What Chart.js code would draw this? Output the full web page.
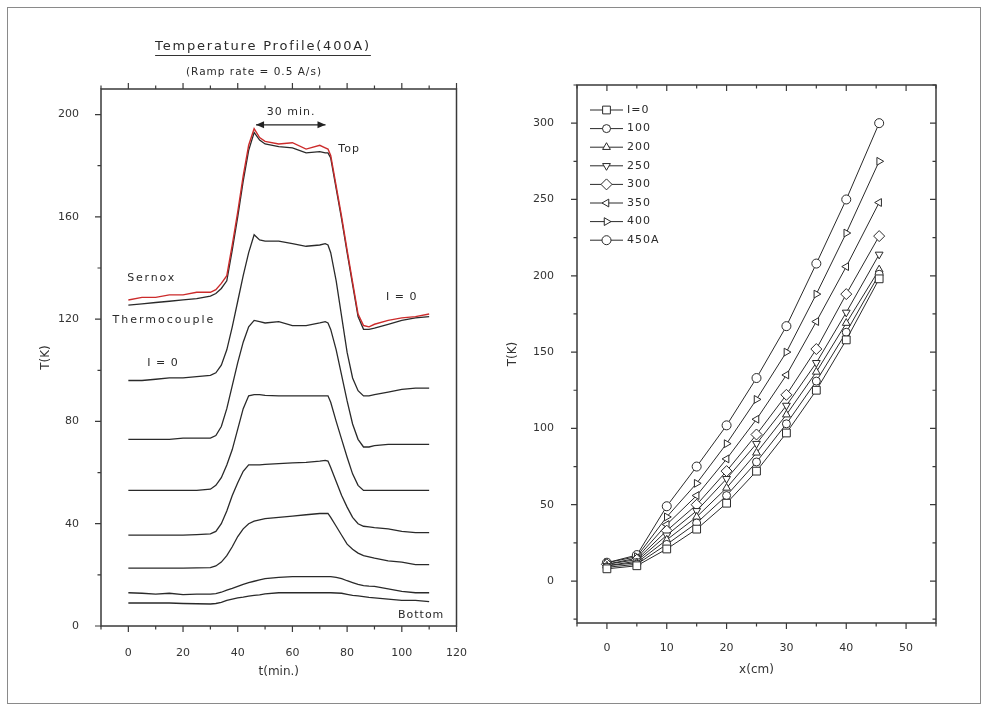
<!DOCTYPE html>
<html><head><meta charset="utf-8">
<script src="https://cdn.jsdelivr.net/npm/chart.js@4.4.1/dist/chart.umd.min.js"></script>
<style>
html,body{margin:0;padding:0;background:#fff;}
body{width:989px;height:711px;position:relative;overflow:hidden;}
#frame{position:absolute;left:7px;top:7px;width:972px;height:695px;border:1px solid #8a8a8a;}
#c1{position:absolute;left:0;top:0;}
#c2{position:absolute;left:480px;top:0;}
</style></head>
<body>
<div id="frame"></div>
<canvas id="c1" width="480" height="711"></canvas>
<canvas id="c2" width="509" height="711"></canvas>
<script>
// ---------- Left panel: temperature profile vs time (400 A) ----------
const timeMin   = [0,5,10,15,20,25,30,32,34,36,38,40,42,44,46,48,50,55,60,65,70,72,73,74,76,78,80,82,84,86,88,90,95,100,105,110];
const sernoxTop = [127.5,128.5,128.5,129.5,129.5,130.5,130.5,131.5,134,137,149,162,176,188,194.5,191,189.5,188.5,189,186.5,188,187,186.5,184,172,160,147,134.5,122,117.5,117,118,119.5,120.5,121,122];
const thermoTop = [125.5,126,126.5,127,127.5,128,129,130,132,135,147,160,174,186,193,190,188.5,187.5,187,185,185.5,185,185,183,171,159,146,133.5,121,116,116,116.5,118,119.5,120.5,121];
const thermo2   = [96,96,96.5,97,97,97.5,98,99,102,108,117,127,137,146,153,151,150.5,150.5,149.5,148.5,149,149.5,149,146,135,121,107,97,92,90,90,90.5,91.5,92.5,93,93];
const thermo3   = [73,73,73,73,73.5,73.5,73.5,74.5,78,85,94,103,111,117,119.5,119,118.5,119,117.5,117.5,118.5,119,118.5,116,108,98,88,79,73,70,70,70.5,71,71,71,71];
const thermo4   = [53,53,53,53,53,53,53.5,55,58,63,69,77,85,90,90.5,90.5,90.2,90,90,90,90,90,90,87.5,80,73,66,59.5,55,53,53,53,53,53,53,53];
const thermo5   = [35.5,35.5,35.5,35.5,35.5,35.7,36,37,40,45,51,56,60.5,63,63,63,63.2,63.5,63.8,64,64.5,64.8,64.5,62,56.5,51,46.5,42.5,40,39,38.8,38.5,38,37,36.5,36.5];
const thermo6   = [22.6,22.6,22.6,22.6,22.6,22.7,22.8,23.5,25,27.5,31,35,38,40,41,41.5,42,42.5,43,43.5,44,44,44,42.5,39,35.5,32,30,28.5,27.5,27,26.5,25.5,25,24,24];
const thermo7   = [13,12.8,12.5,12.8,12.3,12.5,12.5,12.7,13.2,14,14.7,15.5,16.3,17,17.5,18,18.5,19,19.3,19.3,19.3,19.3,19.3,19.3,19,18.5,17.7,17,16.3,15.8,15.6,15.5,14.5,13.5,13,13];
const thermo8   = [9,9,9,9,8.8,8.7,8.6,8.8,9.2,10,10.5,11,11.3,11.7,12,12.2,12.6,13,13,13,13,13,13,13,12.9,12.8,12.4,12,11.8,11.5,11.2,11,10.5,10,10,9.5];
const profileXTicks = [0,20,40,60,80,100,120];
const profileYTicks = [0,40,80,120,160,200];

// ---------- Right panel: T vs position for several currents ----------
const positionCm = [0,5,10,15,20,25,30,35,40,45.5];
const currentLabels = ['I=0','100','200','250','300','350','400','450A'];
const tempI0   = [8,10,21,34,51,72,97,125,158,198];
const tempI100 = [9,11,24,38,56,78,103,131,163,201];
const tempI200 = [10,12,27,42,61,84,109,137,169,204];
const tempI250 = [10,13,30,46,67,90,115,143,176,214];
const tempI300 = [11,14,33,50,72,96,122,152,188,226];
const tempI350 = [11,15,37,56,80,106,135,170,206,248];
const tempI400 = [12,16,42,64,90,119,150,188,228,275];
const tempI450 = [12,17,49,75,102,133,167,208,250,300];
const posXTicks = [0,10,20,30,40,50];
const posYTicks = [0,50,100,150,200,250,300];

Chart.defaults.font.family = "'DejaVu Sans', sans-serif";
Chart.defaults.color = '#333';

function txt(ctx, s, x, y, font, align, spacing) {
  ctx.save();
  ctx.font = font; ctx.fillStyle = '#2a2a2a';
  ctx.textAlign = align || 'center'; ctx.textBaseline = 'middle';
  if ('letterSpacing' in ctx) ctx.letterSpacing = (spacing || 0) + 'px';
  ctx.fillText(s, x, y);
  const w = ctx.measureText(s).width;
  ctx.restore();
  return w;
}

const boxTicks = {
  id: 'boxTicks',
  afterDatasetsDraw(chart, args, o) {
    const {ctx, chartArea: a} = chart;
    const xs = chart.scales.x, ys = chart.scales.y;
    const marks = (s, major, minor) => {
      const out = [];
      for (let v = Math.ceil(s.min / minor) * minor; v <= s.max + 1e-9; v += minor) {
        const r = v / major;
        out.push([s.getPixelForValue(v), Math.abs(r - Math.round(r)) < 1e-6]);
      }
      return out;
    };
    ctx.save();
    ctx.strokeStyle = '#3a3a3a';
    ctx.lineWidth = 1.5;
    ctx.strokeRect(a.left, a.top, a.right - a.left, a.bottom - a.top);
    ctx.lineWidth = 1.2;
    ctx.beginPath();
    for (const [p, maj] of marks(xs, o.xMajor, o.xMinor)) {
      const L = maj ? 6 : 3.5;
      if (o.bottom) { ctx.moveTo(p, a.bottom); ctx.lineTo(p, a.bottom + o.bottom * L); }
      if (o.top) { ctx.moveTo(p, a.top); ctx.lineTo(p, a.top - o.top * L); }
    }
    for (const [p, maj] of marks(ys, o.yMajor, o.yMinor)) {
      const L = maj ? 6 : 3.5;
      if (o.left) { ctx.moveTo(a.left, p); ctx.lineTo(a.left - o.left * L, p); }
      if (o.right) { ctx.moveTo(a.right, p); ctx.lineTo(a.right + o.right * L, p); }
    }
    ctx.stroke();
    ctx.restore();
  }
};

const profileNotes = {
  id: 'profileNotes',
  afterDatasetsDraw(chart) {
    const {ctx} = chart;
    const X = v => chart.scales.x.getPixelForValue(v);
    const Y = v => chart.scales.y.getPixelForValue(v);
    // title + underline
    const w = txt(ctx, 'Temperature Profile(400A)', 263, 47, '13px "DejaVu Sans"', 'center', 1.8);
    ctx.save(); ctx.strokeStyle = '#333'; ctx.lineWidth = 1;
    ctx.beginPath(); ctx.moveTo(263 - w / 2, 55.5); ctx.lineTo(263 + w / 2, 55.5); ctx.stroke(); ctx.restore();
    txt(ctx, '(Ramp rate = 0.5 A/s)', 254, 72, '10.5px "DejaVu Sans"', 'center', 1);
    const f = '11px "DejaVu Sans"';
    txt(ctx, '30 min.', X(59.5), Y(200.8), f, 'center', 1);
    txt(ctx, 'Top', X(76.8), Y(186.5), f, 'left', 1);
    txt(ctx, 'Sernox', X(-0.4), Y(136), f, 'left', 1.8);
    txt(ctx, 'Thermocouple', X(-5.8), Y(119.5), f, 'left', 2);
    txt(ctx, 'I = 0', X(94.2), Y(128.5), f, 'left', 1);
    txt(ctx, 'I = 0', X(6.9), Y(102.7), f, 'left', 1);
    txt(ctx, 'Bottom', X(98.6), Y(4.3), f, 'left', 1);
    // double arrow for 30 min
    const x1 = X(46.7), x2 = X(72.1), y = Y(196);
    ctx.save(); ctx.strokeStyle = '#222'; ctx.fillStyle = '#222'; ctx.lineWidth = 1.2;
    ctx.beginPath(); ctx.moveTo(x1, y); ctx.lineTo(x2, y); ctx.stroke();
    ctx.beginPath(); ctx.moveTo(x1, y); ctx.lineTo(x1 + 8, y - 3.5); ctx.lineTo(x1 + 8, y + 3.5); ctx.closePath(); ctx.fill();
    ctx.beginPath(); ctx.moveTo(x2, y); ctx.lineTo(x2 - 8, y - 3.5); ctx.lineTo(x2 - 8, y + 3.5); ctx.closePath(); ctx.fill();
    ctx.restore();
  }
};

const insideLegend = {
  id: 'insideLegend',
  afterDatasetsDraw(chart, args, o) {
    const {ctx, chartArea: a} = chart;
    chart.data.datasets.forEach((ds, i) => {
      const y = a.top + o.top + i * o.gap;
      const x0 = a.left + o.left;
      ctx.save();
      ctx.strokeStyle = ds.borderColor; ctx.lineWidth = 1;
      ctx.beginPath(); ctx.moveTo(x0, y); ctx.lineTo(x0 + o.len, y); ctx.stroke();
      ctx.fillStyle = '#fff'; ctx.strokeStyle = ds.pointBorderColor; ctx.lineWidth = 1;
      if (Chart.helpers && Chart.helpers.drawPoint) {
        Chart.helpers.drawPoint(ctx, {pointStyle: ds.pointStyle, radius: ds.pointRadius, rotation: ds.pointRotation || 0, borderWidth: 1}, x0 + o.len / 2, y);
      } else {
        ctx.beginPath(); ctx.arc(x0 + o.len / 2, y, 4, 0, Math.PI * 2); ctx.fill(); ctx.stroke();
      }
      ctx.restore();
      txt(ctx, ds.label, x0 + o.len + 4, y, '11px "DejaVu Sans"', 'left', 1);
    });
  }
};

const series = (xs, ys) => ys.map((v, i) => ({x: xs[i], y: v}));
const ink = '#2a2a2a';
const leftCurves = [thermoTop, thermo2, thermo3, thermo4, thermo5, thermo6, thermo7, thermo8];

new Chart(document.getElementById('c1'), {
  type: 'line',
  data: {
    datasets: [
      {label: 'Sernox', data: series(timeMin, sernoxTop), borderColor: '#cc2b2b', borderWidth: 1.4}
    ].concat(leftCurves.map((c, i) => ({label: 'Thermocouple ' + (i + 1), data: series(timeMin, c), borderColor: ink, borderWidth: 1.3})))
  },
  options: {
    responsive: false, animation: false, devicePixelRatio: 1,
    layout: {padding: {left: 39, right: 22, top: 89, bottom: 32}},
    elements: {point: {radius: 0}, line: {tension: 0}},
    plugins: {
      legend: {display: false}, tooltip: {enabled: false},
      boxTicks: {xMajor: 20, xMinor: 10, yMajor: 40, yMinor: 20, bottom: 1, top: 1, left: 1, right: 0}
    },
    scales: {
      x: {
        type: 'linear', min: -10, max: 120,
        afterBuildTicks: s => { s.ticks = profileXTicks.map(v => ({value: v})); },
        afterFit: s => { s.height = 53; },
        grid: {display: false}, border: {display: false},
        ticks: {padding: 13, font: {size: 11}, autoSkip: false, maxRotation: 0, color: '#333'},
        title: {display: true, text: 't(min.)', padding: 0, font: {size: 12}, color: '#333'}
      },
      y: {
        type: 'linear', min: 0, max: 210,
        afterBuildTicks: s => { s.ticks = profileYTicks.map(v => ({value: v})); },
        afterFit: s => { s.width = 62; },
        grid: {display: false}, border: {display: false},
        ticks: {padding: 14, font: {size: 11}, autoSkip: false, color: '#333'},
        title: {display: true, text: 'T(K)', padding: 0, font: {size: 12}, color: '#333'}
      }
    }
  },
  plugins: [boxTicks, profileNotes]
});

const rightSeries = [tempI0, tempI100, tempI200, tempI250, tempI300, tempI350, tempI400, tempI450];
const markerStyles = [
  {pointStyle: 'rect', pointRadius: 5.5, pointRotation: 0},
  {pointStyle: 'circle', pointRadius: 4, pointRotation: 0},
  {pointStyle: 'triangle', pointRadius: 4.5, pointRotation: 0},
  {pointStyle: 'triangle', pointRadius: 4.5, pointRotation: 180},
  {pointStyle: 'rectRot', pointRadius: 5.5, pointRotation: 0},
  {pointStyle: 'triangle', pointRadius: 4.5, pointRotation: 270},
  {pointStyle: 'triangle', pointRadius: 4.5, pointRotation: 90},
  {pointStyle: 'circle', pointRadius: 4.5, pointRotation: 0}
];

new Chart(document.getElementById('c2'), {
  type: 'line',
  data: {
    datasets: rightSeries.map((vals, i) => Object.assign({
      label: currentLabels[i], data: series(positionCm, vals),
      borderColor: ink, borderWidth: 1,
      pointBackgroundColor: '#fff', pointBorderColor: ink, pointBorderWidth: 1
    }, markerStyles[i]))
  },
  options: {
    responsive: false, animation: false, devicePixelRatio: 1,
    layout: {padding: {left: 26, right: 53, top: 85, bottom: 34}},
    elements: {line: {tension: 0}},
    plugins: {
      legend: {display: false}, tooltip: {enabled: false},
      boxTicks: {xMajor: 10, xMinor: 5, yMajor: 50, yMinor: 25, bottom: 1, top: -1, left: 1, right: -1},
      insideLegend: {left: 13, top: 25, gap: 18.6, len: 33}
    },
    scales: {
      x: {
        type: 'linear', min: -5, max: 55,
        afterBuildTicks: s => { s.ticks = posXTicks.map(v => ({value: v})); },
        afterFit: s => { s.height = 54; },
        grid: {display: false}, border: {display: false},
        ticks: {padding: 11, font: {size: 11}, autoSkip: false, maxRotation: 0, color: '#333'},
        title: {display: true, text: 'x(cm)', padding: 0, font: {size: 12}, color: '#333'}
      },
      y: {
        type: 'linear', min: -27.5, max: 325,
        afterBuildTicks: s => { s.ticks = posYTicks.map(v => ({value: v})); },
        afterFit: s => { s.width = 71; },
        grid: {display: false}, border: {display: false},
        ticks: {padding: 15, font: {size: 11}, autoSkip: false, color: '#333'},
        title: {display: true, text: 'T(K)', padding: 0, font: {size: 12}, color: '#333'}
      }
    }
  },
  plugins: [boxTicks, insideLegend]
});
</script>
</body></html>
